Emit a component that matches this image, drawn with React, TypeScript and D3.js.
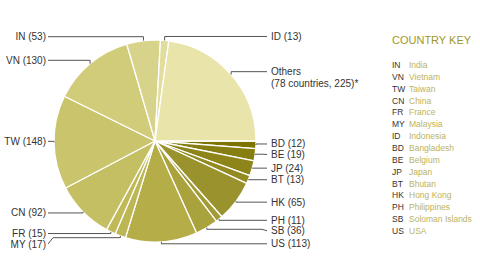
import React from "react";
import * as d3 from "d3";

const sliceCodes = ["BD", "BE", "JP", "BT", "HK", "PH", "SB", "US", "MY", "FR", "CN", "TW", "VN", "IN", "ID", "Others"];
const sliceValues = [12, 19, 24, 13, 65, 11, 36, 113, 17, 15, 92, 148, 130, 53, 13, 225];
const othersNote = "(78 countries, 225)*";

const legendTitle = "COUNTRY KEY";
const legendCodes = ["IN", "VN", "TW", "CN", "FR", "MY", "ID", "BD", "BE", "JP", "BT", "HK", "PH", "SB", "US"];
const legendNames = ["India", "Vietnam", "Taiwan", "China", "France", "Malaysia", "Indonesia", "Bangladesh", "Belgium", "Japan", "Bhutan", "Hong Kong", "Philippines", "Soloman Islands", "USA"];

const sliceColors = [
  "#7d7300", "#867e10", "#8d8519", "#938b22", "#9a922c", "#a29b35", "#a9a23d", "#b4ad48",
  "#bcb654", "#bfb958", "#c4bf62", "#cac56c", "#d1cc7a", "#d8d38a", "#e1dd9c", "#e9e5aa",
];

const W = 480;
const H = 280;
const cx = 155;
const cy = 141;
const R = 101;
const FONT = "'Liberation Sans', Arial, Helvetica, sans-serif";

type Item = { code: string; value: number; color: string };

export default function App() {
  const items: Item[] = sliceCodes.map((c, i) => ({ code: c, value: sliceValues[i], color: sliceColors[i] }));
  const pie = d3
    .pie<Item>()
    .sort(null)
    .value((d) => d.value)
    .startAngle(Math.PI / 2)
    .endAngle(Math.PI / 2 + Math.PI * 2);
  const arcs = pie(items);
  const arcGen = d3.arc<d3.PieArcDatum<Item>>().innerRadius(0).outerRadius(R);

  // label layout
  const labels = arcs.map((a) => {
    const mid = (a.startAngle + a.endAngle) / 2;
    const s = Math.sin(mid);
    const c = Math.cos(mid);
    const right = s >= 0;
    return {
      a,
      right,
      ax: cx + R * s,
      ay: cy - R * c,
      ny: cy - (R + 3) * c - 1,
      ly: 0,
    };
  });
  [true, false].forEach((side) => {
    const group = labels.filter((l) => l.right === side).sort((p, q) => p.ny - q.ny);
    let prev = -Infinity;
    group.forEach((l) => {
      l.ly = Math.max(l.ny, prev + 10.5);
      prev = l.ly;
    });
  });

  const line = d3.line<[number, number]>();

  return (
    <svg width={W} height={H} style={{ position: "absolute", left: 0, top: 0, background: "#fff" }} fontFamily={FONT}>
      <g transform={`translate(${cx},${cy})`}>
        {arcs.map((a, i) => (
          <path key={i} d={arcGen(a) || ""} fill={a.data.color} stroke="#fff" strokeWidth={1.3} strokeLinejoin="round" />
        ))}
      </g>
      {labels.map((l, i) => {
        const endX = l.right ? 267 : 48;
        const pts: [number, number][] = [
          [l.ax, l.ay],
          [l.ax, l.ny],
          [endX + (l.right ? -5 : 5), l.ny],
          [endX, l.ly],
        ];
        const isOthers = l.a.data.code === "Others";
        return (
          <g key={i}>
            <path d={line(pts) || ""} fill="none" stroke="#555" strokeWidth={1} />
            <text
              x={l.right ? 271 : 46}
              y={l.ly}
              dy="0.35em"
              textAnchor={l.right ? "start" : "end"}
              fontSize={10}
              fill="#333"
            >
              {isOthers ? "Others" : `${l.a.data.code} (${l.a.data.value})`}
            </text>
            {isOthers && (
              <text x={271} y={l.ly + 12} dy="0.35em" fontSize={10} fill="#333">
                {othersNote}
              </text>
            )}
          </g>
        );
      })}
      <text x={392} y={40} dy="0.35em" fontSize={11} fill="#a0972b">
        {legendTitle}
      </text>
      {legendCodes.map((c, i) => (
        <g key={c}>
          <text x={392} y={65 + i * 11.86} dy="0.35em" fontSize={8.5} fill="#333">
            {c}
          </text>
          <text x={409} y={65 + i * 11.86} dy="0.35em" fontSize={8.5} fill="#bdb35c">
            {legendNames[i]}
          </text>
        </g>
      ))}
    </svg>
  );
}
